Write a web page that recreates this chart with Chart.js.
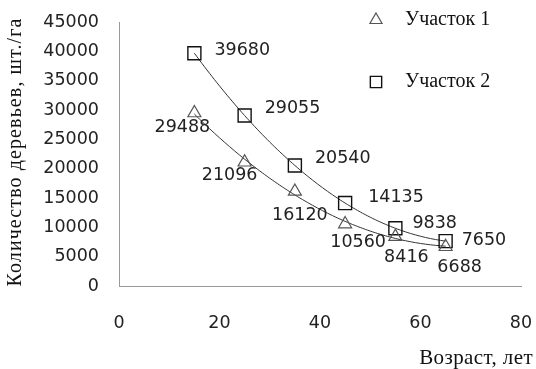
<!DOCTYPE html>
<html lang="ru">
<head>
<meta charset="utf-8">
<title>Количество деревьев по возрасту</title>
<script src="https://cdn.jsdelivr.net/npm/chart.js@4/dist/chart.umd.min.js"></script>
<style>
  html, body { margin: 0; padding: 0; background: #fff; }
  #wrap { width: 536px; height: 369px; }
</style>
</head>
<body>
<div id="wrap"><canvas id="chart" width="536" height="369"></canvas></div>
<script>
// Stand age, years
const ages = [15, 25, 35, 45, 55, 65];
// Trees per hectare on each plot
const plot1 = [29488, 21096, 16120, 10560, 8416, 6688];
const plot2 = [39680, 29055, 20540, 14135, 9838, 7650];
const seriesNames = ['Участок 1', 'Участок 2'];
const xTitle = 'Возраст, лет';
const yTitle = 'Количество деревьев, шт./га';
const xMin = 0, xMax = 80, xStep = 20;
const yMin = 0, yMax = 45000, yStep = 5000;

const numFont = '"DejaVu Sans", sans-serif';
const textFont = '"Liberation Serif", "Times New Roman", serif';

// Second-order polynomial trend (least squares), sampled for a smooth line
function quadTrend(xs, ys, from, to, step) {
  const n = xs.length;
  let s = [0, 0, 0, 0, 0], t = [0, 0, 0];
  for (let i = 0; i < n; i++) {
    const x = xs[i], y = ys[i];
    for (let k = 0; k <= 4; k++) s[k] += Math.pow(x, k);
    for (let k = 0; k <= 2; k++) t[k] += Math.pow(x, k) * y;
  }
  // Solve 3x3 normal equations by Cramer's rule
  const M = [[s[0], s[1], s[2]], [s[1], s[2], s[3]], [s[2], s[3], s[4]]];
  const det = m => m[0][0] * (m[1][1] * m[2][2] - m[1][2] * m[2][1])
                 - m[0][1] * (m[1][0] * m[2][2] - m[1][2] * m[2][0])
                 + m[0][2] * (m[1][0] * m[2][1] - m[1][1] * m[2][0]);
  const D = det(M);
  const coef = [0, 1, 2].map(c => det(M.map((row, r) => row.map((v, j) => j === c ? t[r] : v))) / D);
  const pts = [];
  for (let x = from; x <= to + 1e-9; x += step) {
    pts.push({ x: x, y: coef[0] + coef[1] * x + coef[2] * x * x });
  }
  return pts;
}

const toPoints = (xs, ys) => xs.map((x, i) => ({ x: x, y: ys[i] }));

// Value label placement relative to each marker (px)
const labelPlacement = [
  { align: 'center', offsets: [[-12, 14], [-15, 13], [5, 24], [13, 18], [11, 21], [14, 21]] },
  { align: 'left',   offsets: [[20, -3], [20, -7], [20, -7], [23, -6], [17, -5], [16, -1]] }
];

const valueLabels = {
  id: 'valueLabels',
  afterDatasetsDraw(chart) {
    const ctx = chart.ctx;
    ctx.save();
    ctx.font = '17.5px ' + numFont;
    ctx.fillStyle = '#222';
    ctx.textBaseline = 'middle';
    [0, 1].forEach(di => {
      const meta = chart.getDatasetMeta(di);
      const ds = chart.data.datasets[di];
      const place = labelPlacement[di];
      ctx.textAlign = place.align;
      meta.data.forEach((el, j) => {
        const off = place.offsets[j];
        ctx.fillText(String(ds.data[j].y), el.x + off[0], el.y + off[1]);
      });
    });
    ctx.restore();
  }
};

// Legend stacked in the upper right corner
const sideLegend = {
  id: 'sideLegend',
  afterDraw(chart) {
    const ctx = chart.ctx;
    const rows = [20, 82];
    ctx.save();
    [0, 1].forEach(di => {
      const ds = chart.data.datasets[di];
      ctx.strokeStyle = ds.borderColor;
      ctx.lineWidth = ds.borderWidth;
      ctx.fillStyle = 'rgba(0,0,0,0)';
      Chart.helpers.drawPoint(ctx, {
        pointStyle: ds.pointStyle,
        radius: di === 0 ? 7 : 8,
        rotation: 0,
        borderWidth: ds.borderWidth
      }, 376, rows[di]);
    });
    ctx.font = '20px ' + textFont;
    ctx.fillStyle = '#111';
    ctx.textAlign = 'left';
    ctx.textBaseline = 'middle';
    [0, 1].forEach(di => ctx.fillText(chart.data.datasets[di].label, 405, rows[di]));
    ctx.restore();
  }
};

// Axis titles
const axisTitles = {
  id: 'axisTitles',
  afterDraw(chart) {
    const ctx = chart.ctx;
    ctx.save();
    ctx.fillStyle = '#111';
    ctx.font = '21px ' + textFont;
    ctx.textAlign = 'right';
    ctx.textBaseline = 'middle';
    if ('letterSpacing' in ctx) ctx.letterSpacing = '0.4px';
    ctx.fillText(xTitle, 533, 358);
    ctx.translate(16, 152);
    ctx.rotate(-Math.PI / 2);
    ctx.textAlign = 'center';
    ctx.font = '20px ' + textFont;
    if ('letterSpacing' in ctx) ctx.letterSpacing = '1.1px';
    ctx.fillText(yTitle, 0, 0);
    ctx.restore();
  }
};

new Chart(document.getElementById('chart'), {
  type: 'scatter',
  data: {
    datasets: [
      {
        label: seriesNames[0],
        data: toPoints(ages, plot1),
        pointStyle: 'triangle',
        pointRadius: 7.5,
        pointHoverRadius: 7.5,
        borderColor: '#555',
        backgroundColor: 'rgba(0,0,0,0)',
        borderWidth: 1.2,
        order: 0
      },
      {
        label: seriesNames[1],
        data: toPoints(ages, plot2),
        pointStyle: 'rect',
        pointRadius: 9.2,
        pointHoverRadius: 9.2,
        borderColor: '#111',
        backgroundColor: 'rgba(0,0,0,0)',
        borderWidth: 1.4,
        order: 0
      },
      {
        label: 'trend 1',
        data: quadTrend(ages, plot1, ages[0], ages[ages.length - 1], 0.5),
        showLine: true,
        pointRadius: 0,
        borderColor: '#333',
        borderWidth: 1,
        order: 1
      },
      {
        label: 'trend 2',
        data: quadTrend(ages, plot2, ages[0], ages[ages.length - 1], 0.5),
        showLine: true,
        pointRadius: 0,
        borderColor: '#333',
        borderWidth: 1,
        order: 1
      }
    ]
  },
  options: {
    responsive: false,
    animation: false,
    devicePixelRatio: 1,
    layout: { padding: { top: 22, right: 15, left: 0, bottom: 0 } },
    plugins: {
      legend: { display: false },
      tooltip: { enabled: false }
    },
    scales: {
      x: {
        type: 'linear',
        min: xMin, max: xMax,
        afterFit(scale) {
          scale.height = 83;
          scale.paddingLeft = 0; scale.paddingRight = 0;
        },
        afterBuildTicks(scale) {
          scale.ticks = [];
          for (let v = xMin; v <= xMax; v += xStep) scale.ticks.push({ value: v });
        },
        ticks: {
          color: '#222',
          font: { family: numFont, size: 17.5 },
          padding: 27,
          maxRotation: 0
        },
        grid: { display: true, color: 'rgba(0,0,0,0)', drawTicks: false },
        border: { display: true, color: '#999', width: 1 }
      },
      y: {
        type: 'linear',
        min: yMin, max: yMax,
        afterFit(scale) {
          scale.width = 119;
          scale.paddingTop = 0; scale.paddingBottom = 0;
        },
        afterBuildTicks(scale) {
          scale.ticks = [];
          for (let v = yMin; v <= yMax; v += yStep) scale.ticks.push({ value: v });
        },
        ticks: {
          color: '#222',
          font: { family: numFont, size: 17.5 },
          padding: 20,
          callback: v => String(v)
        },
        grid: { display: true, color: 'rgba(0,0,0,0)', drawTicks: false },
        border: { display: true, color: '#999', width: 1 }
      }
    }
  },
  plugins: [valueLabels, sideLegend, axisTitles]
});
</script>
</body>
</html>
